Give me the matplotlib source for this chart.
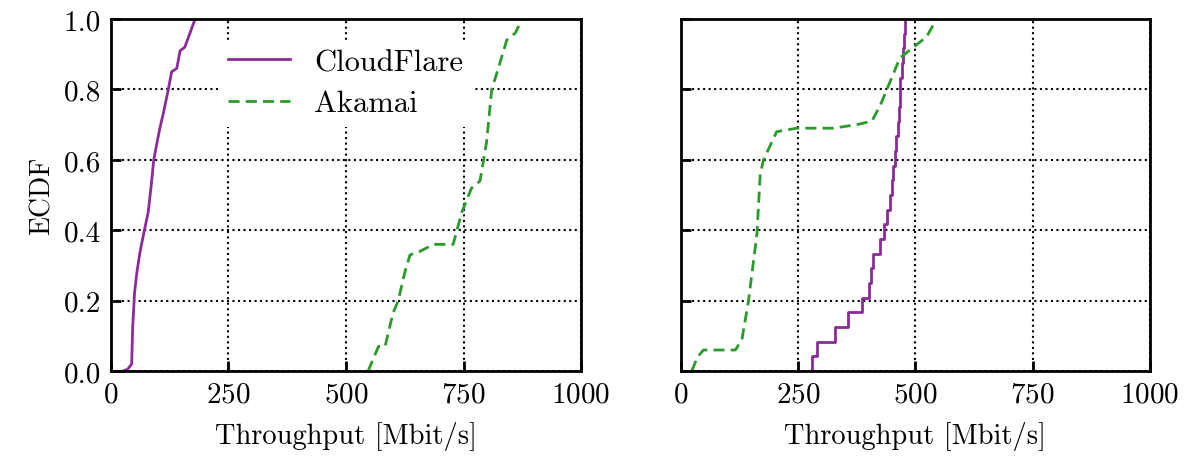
import numpy as np
import matplotlib
matplotlib.use("Agg")
from matplotlib import pyplot as plt

plt.rcParams["font.family"] = ["cmr10", "DejaVu Serif"]
plt.rcParams["mathtext.fontset"] = "cm"
plt.rcParams["axes.formatter.use_mathtext"] = True

# ECDF curves (x in Mbit/s, y = ECDF)
cf_left_x = [25, 35, 44, 46, 50, 55, 62, 71, 79, 85, 91, 98, 104, 111, 122, 129, 140, 147, 157, 179]
cf_left_y = [0.0, 0.005, 0.02, 0.12, 0.22, 0.28, 0.34, 0.40, 0.45, 0.52, 0.60, 0.65, 0.69, 0.73, 0.80, 0.85, 0.86, 0.91, 0.92, 1.0]

ak_left_x = [547, 569, 583, 600, 611, 625, 636, 657, 686, 728, 746, 767, 785, 799, 810, 824, 842, 860, 875]
ak_left_y = [0.0, 0.07, 0.07, 0.165, 0.20, 0.28, 0.33, 0.34, 0.36, 0.36, 0.45, 0.52, 0.54, 0.65, 0.80, 0.86, 0.94, 0.96, 1.0]

cf_right_x = [279, 279, 290, 329, 357, 386, 400, 405, 410, 425, 432, 440, 446, 450, 453,
              456, 459, 462, 464, 466, 468, 471, 473, 476, 478]
cf_right_y = [0.0, 0.042, 0.083, 0.125, 0.167, 0.208, 0.25, 0.292, 0.333, 0.375, 0.417, 0.458, 0.5, 0.542, 0.583,
              0.625, 0.667, 0.708, 0.75, 0.792, 0.833, 0.875, 0.917, 0.958, 1.0]

ak_right_x = [23, 35, 48, 116, 130, 144, 162, 169, 176, 204, 247, 325, 375, 407, 425, 439, 467, 496, 524, 545]
ak_right_y = [0.0, 0.04, 0.06, 0.06, 0.09, 0.20, 0.39, 0.56, 0.60, 0.68, 0.69, 0.69, 0.70, 0.71, 0.755, 0.80, 0.89, 0.92, 0.95, 1.0]

xticks = [0, 250, 500, 750, 1000]
yticks = [0.0, 0.2, 0.4, 0.6, 0.8, 1.0]

purple = "#8b2a98"
green = "#2a9a2a"

fig = plt.figure(figsize=(11.87, 4.6), dpi=100)
ax1 = fig.add_axes([0.0935, 0.191, 0.396, 0.7655])
ax2 = fig.add_axes([0.5737, 0.191, 0.3951, 0.7655], sharey=ax1)

ax1.plot(cf_left_x, cf_left_y, color=purple, lw=2, label="CloudFlare")
ax1.plot(ak_left_x, ak_left_y, color=green, lw=2, ls=(0, (4, 2.2)), label="Akamai")
ax2.step(cf_right_x, cf_right_y, where="post", color=purple, lw=2)
ax2.plot(ak_right_x, ak_right_y, color=green, lw=2, ls=(0, (4, 2.2)))

for ax in (ax1, ax2):
    ax.set_xlim(0, 1000)
    ax.set_ylim(0, 1)
    ax.set_xticks(xticks)
    ax.set_yticks(yticks)
    ax.grid(True, color="black", ls=":", lw=1.5)
    ax.set_axisbelow(True)
    ax.tick_params(direction="in", length=7, width=2, labelsize=21, pad=7)
    for s in ax.spines.values():
        s.set_linewidth(2)
    ax.set_xlabel("Throughput [Mbit/s]", fontsize=20.5, labelpad=10)

ax1.yaxis.set_major_formatter(matplotlib.ticker.FormatStrFormatter("%.1f"))
ax1.set_ylabel("ECDF", fontsize=20, labelpad=6)
ax2.tick_params(labelleft=False)

leg = ax1.legend(loc="upper left", bbox_to_anchor=(0.198, 0.985), frameon=True, fontsize=22,
                 handlelength=2.0, handletextpad=0.8, labelspacing=0.45, fancybox=False,
                 borderpad=0.3)
leg.get_frame().set_edgecolor("none")
leg.get_frame().set_facecolor("white")
leg.get_frame().set_alpha(1)

fig.savefig("out.png", dpi=100)
